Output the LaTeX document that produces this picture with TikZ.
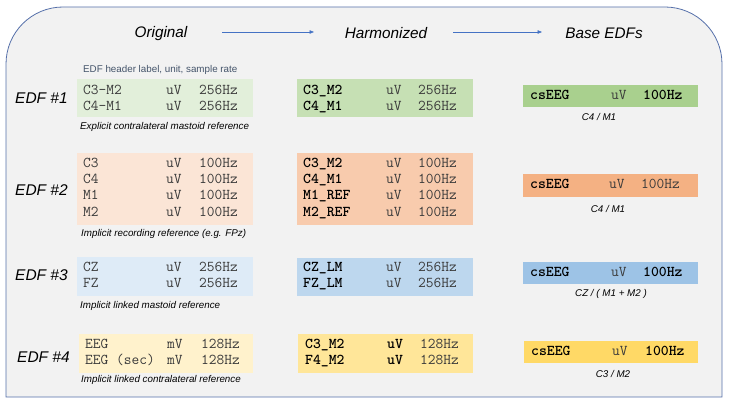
\documentclass[tikz,border=0pt]{standalone}
\usepackage{fontspec}
\setmainfont{Liberation Sans}
\usetikzlibrary{arrows.meta}
\definecolor{gL}{HTML}{E2EFDA}\definecolor{gM}{HTML}{C6E0B4}\definecolor{gD}{HTML}{A9D08E}
\definecolor{oL}{HTML}{FBE5D6}\definecolor{oM}{HTML}{F8CBAD}\definecolor{oD}{HTML}{F4B183}
\definecolor{bL}{HTML}{DEEBF7}\definecolor{bM}{HTML}{BDD7EE}\definecolor{bD}{HTML}{9DC3E6}
\definecolor{yL}{HTML}{FFF2CC}\definecolor{yM}{HTML}{FFE699}\definecolor{yD}{HTML}{FFD966}
\definecolor{bgc}{HTML}{F2F2F2}\definecolor{framec}{HTML}{5670AA}
\definecolor{arrc}{HTML}{4472C4}\definecolor{txt}{HTML}{3A3A3A}\definecolor{hdrc}{HTML}{44546A}
\newcommand\bk[1]{\textcolor{black}{\bfseries #1}}
\newcommand\trow[8]{%
 \node[mono] (#1a) at (#3,#2) {#4};
 \node[mono] (#1b) at (#5,#2) {#6};
 \node[mono] (#1c) at (#7,#2) {#8};}
\tikzset{
 hdr/.style={font=\fontsize{15.3}{18}\selectfont\itshape, inner sep=0},
 edf/.style={font=\fontsize{15.5}{18}\selectfont\itshape, inner sep=0, anchor=west},
 captext/.style={font=\fontsize{9.8}{12}\selectfont\itshape, inner sep=0, text=black},
 capw/.style={captext, anchor=west},
 box/.style={inner sep=0, draw=none, anchor=north west},
 mono/.style={font=\fontsize{15}{17}\selectfont\ttfamily, inner sep=0, anchor=mid west, text=txt},
 arr/.style={draw=arrc, line width=0.6pt, -{Triangle[length=4.5pt,width=3.5pt]}},
 framest/.style={draw=framec, fill=bgc, line width=0.8pt},
}
\begin{document}
\begin{tikzpicture}[x=1pt,y=-1pt]
\useasboundingbox (0,0) rectangle (730,404);
% frame
\draw[framest] (6,397) -- (6,64) .. controls (6,32.5) and (31.5,7) .. (63,7)
  -- (665,7) .. controls (696.5,7) and (722,32.5) .. (722,64) -- (722,397) -- cycle;
% headers
\node[hdr] (hO) at (161,33.5) {Original};
\node[hdr] (hH) at (386,33.5) {Harmonized};
\node[hdr] (hB) at (604,33.5) {Base EDFs};
\coordinate (a1s) at (222,32); \coordinate (a1e) at (314,32);
\coordinate (a2s) at (453,32); \coordinate (a2e) at (542,32);
\draw[arr] (a1s) -- (a1e);
\draw[arr] (a2s) -- (a2e);
\node[anchor=west, inner sep=0, text=hdrc, font=\fontsize{9.8}{12}\selectfont] (sub) at (83,70) {EDF header label, unit, sample rate};
% Row 1
\node[edf] (e1) at (15,98) {EDF \#1};
\node[box, fill=gL, minimum width=176pt, minimum height=38pt] (o1) at (77,79) {};
\node[box, fill=gM, minimum width=176pt, minimum height=38pt] (h1) at (297,79) {};
\node[box, fill=gD, minimum width=175pt, minimum height=22pt] (b1) at (523,85) {};
\trow{o1l1}{91.5}{83}{C3-M2}{166}{uV}{199}{256Hz}
\trow{o1l2}{107.5}{83}{C4-M1}{166}{uV}{199}{256Hz}
\trow{h1l1}{91.5}{303}{\bk{C3\_M2}}{386}{uV}{418}{256Hz}
\trow{h1l2}{107.5}{303}{\bk{C4\_M1}}{386}{uV}{418}{256Hz}
\trow{b1l1}{96.5}{530}{\bk{csEEG}}{611}{uV}{643}{\bk{100Hz}}
\node[capw] (c1) at (80,127) {Explicit contralateral mastoid reference};
\node[captext] (d1) at (599,117) {C4 / M1};
% Row 2
\node[edf] (e2) at (15,190) {EDF \#2};
\node[box, fill=oL, minimum width=176pt, minimum height=72pt] (o2) at (77,153) {};
\node[box, fill=oM, minimum width=176pt, minimum height=72pt] (h2) at (297,153) {};
\node[box, fill=oD, minimum width=175pt, minimum height=23pt] (b2) at (523,174) {};
\trow{o2l1}{164.5}{83}{C3}{166}{uV}{199}{100Hz}
\trow{o2l2}{181}{83}{C4}{166}{uV}{199}{100Hz}
\trow{o2l3}{197}{83}{M1}{166}{uV}{199}{100Hz}
\trow{o2l4}{213.5}{83}{M2}{166}{uV}{199}{100Hz}
\trow{h2l1}{164.5}{303}{\bk{C3\_M2}}{386}{uV}{418}{100Hz}
\trow{h2l2}{181}{303}{\bk{C4\_M1}}{386}{uV}{418}{100Hz}
\trow{h2l3}{197}{303}{\bk{M1\_REF}}{386}{uV}{418}{100Hz}
\trow{h2l4}{213.5}{303}{\bk{M2\_REF}}{386}{uV}{418}{100Hz}
\trow{b2l1}{186}{530}{\bk{csEEG}}{609}{uV}{641}{100Hz}
\node[capw] (c2) at (81,234) {Implicit recording reference (e.g. FPz)};
\node[captext] (d2) at (608,209) {C4 / M1};
% Row 3
\node[edf] (e3) at (15,275) {EDF \#3};
\node[box, fill=bL, minimum width=176pt, minimum height=39pt] (o3) at (77,257) {};
\node[box, fill=bM, minimum width=176pt, minimum height=38pt] (h3) at (297,258) {};
\node[box, fill=bD, minimum width=175pt, minimum height=22pt] (b3) at (523,262) {};
\trow{o3l1}{268.5}{83}{CZ}{166}{uV}{199}{256Hz}
\trow{o3l2}{284.5}{83}{FZ}{166}{uV}{199}{256Hz}
\trow{h3l1}{268.5}{303}{\bk{CZ\_LM}}{386}{uV}{418}{256Hz}
\trow{h3l2}{284.5}{303}{\bk{FZ\_LM}}{386}{uV}{418}{256Hz}
\trow{b3l1}{273.5}{530}{\bk{csEEG}}{611}{uV}{643}{\bk{100Hz}}
\node[capw] (c3) at (80,306) {Implicit linked mastoid reference};
\node[captext] (d3) at (611,294) {CZ / ( M1 + M2 )};
% Row 4
\node[edf] (e4) at (17,357) {EDF \#4};
\node[box, fill=yL, minimum width=174pt, minimum height=39pt] (o4) at (79,334) {};
\node[box, fill=yM, minimum width=175pt, minimum height=39pt] (h4) at (298,334) {};
\node[box, fill=yD, minimum width=174pt, minimum height=22pt] (b4) at (524,341) {};
\trow{o4l1}{345.5}{85}{EEG}{167}{mV}{201}{128Hz}
\trow{o4l2}{362}{85}{EEG (sec)}{167}{mV}{201}{128Hz}
\trow{h4l1}{345.5}{305}{\bk{C3\_M2}}{387}{\bk{uV}}{420}{128Hz}
\trow{h4l2}{362}{305}{\bk{F4\_M2}}{387}{\bk{uV}}{420}{128Hz}
\trow{b4l1}{352.5}{531}{\bk{csEEG}}{612}{uV}{645}{\bk{100Hz}}
\node[capw] (c4) at (81,380) {Implicit linked contralateral reference};
\node[captext] (d4) at (613,374) {C3 / M2};
\end{tikzpicture}
\end{document}
